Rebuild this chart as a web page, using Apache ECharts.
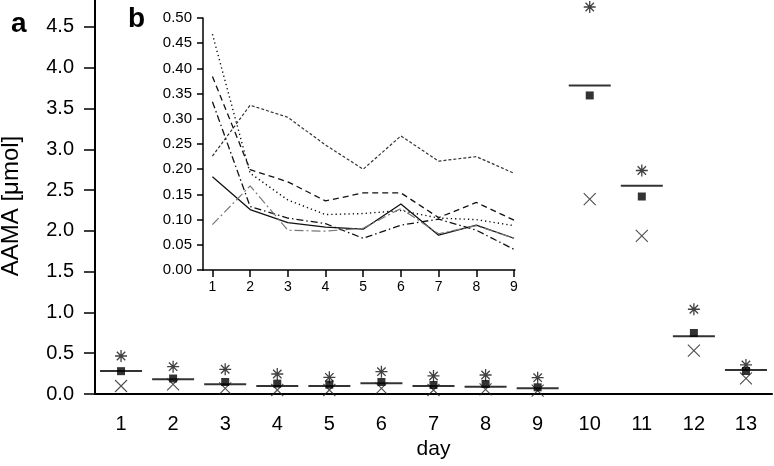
<!DOCTYPE html>
<html>
<head>
<meta charset="utf-8">
<script src="https://cdn.jsdelivr.net/npm/echarts@6/dist/echarts.min.js"></script>
<style>html,body{margin:0;padding:0;background:#fff}#c{width:774px;height:466px}</style>
</head>
<body>
<div id="c"></div>
<script>
// ---- main panel (a) ----
const days = ['1','2','3','4','5','6','7','8','9','10','11','12','13'];
const mainYTicks = [0, 0.5, 1.0, 1.5, 2.0, 2.5, 3.0, 3.5, 4.0, 4.5];
const medianVals = [0.282, 0.180, 0.119, 0.098, 0.098, 0.131, 0.098, 0.090, 0.070, 3.783, 2.552, 0.708, 0.294];
const meanVals   = [0.280, 0.190, 0.147, 0.127, 0.115, 0.147, 0.110, 0.123, 0.082, 3.660, 2.421, 0.748, 0.282];
const maxVals    = [0.466, 0.335, 0.303, 0.245, 0.204, 0.274, 0.221, 0.233, 0.200, 4.744, 2.740, 1.039, 0.356];
const minVals    = [0.098, 0.119, 0.070, 0.049, 0.049, 0.070, 0.049, 0.057, 0.041, 2.389, 1.939, 0.532, 0.192];

// ---- inset panel (b) ----
const insetDays = [1, 2, 3, 4, 5, 6, 7, 8, 9];
const insetYTicks = [0, 0.05, 0.10, 0.15, 0.20, 0.25, 0.30, 0.35, 0.40, 0.45, 0.50];
const subjSolid    = [0.185, 0.120, 0.094, 0.085, 0.081, 0.131, 0.069, 0.089, 0.063];
const subjShortDash= [0.226, 0.327, 0.303, 0.248, 0.200, 0.266, 0.216, 0.225, 0.192];
const subjDotted   = [0.468, 0.192, 0.139, 0.110, 0.112, 0.118, 0.103, 0.100, 0.088];
const subjLongDash = [0.384, 0.199, 0.175, 0.137, 0.153, 0.153, 0.104, 0.134, 0.099];
const subjDashDot  = [0.334, 0.126, 0.103, 0.092, 0.063, 0.089, 0.101, 0.079, 0.041];
const subjGrayDash = [0.090, 0.167, 0.079, 0.077, 0.083, 0.122, 0.072, 0.088, 0.063];
const insetAxisTail = [9, 9.45];

const FONT = 'Liberation Sans, Arial, sans-serif';
const pair = arr => arr.map((v, i) => [insetDays[i], v]);

const starPath = 'path://M0 5L10 5M5 0L5 10M1.5 1.5L8.5 8.5M8.5 1.5L1.5 8.5';
const crossPath = 'path://M0 0L10 10M10 0L0 10';

function insetLine(name, data, type, color, width) {
  return {
    name, type: 'line', xAxisIndex: 1, yAxisIndex: 1, data: pair(data),
    symbol: 'none', silent: true,
    lineStyle: { color, width, type }
  };
}

const chart = echarts.init(document.getElementById('c'), null, { renderer: 'canvas' });
chart.setOption({
  animation: false,
  backgroundColor: '#fff',
  grid: [
    { left: 95, right: 2, top: 0, bottom: 72, containLabel: false, outerBoundsMode: 'none' },
    { left: 203, right: 260, top: 18, bottom: 196, containLabel: false, outerBoundsMode: 'none' }
  ],
  xAxis: [
    {
      type: 'category', gridIndex: 0, data: days, boundaryGap: true,
      name: 'day', nameLocation: 'middle', nameGap: 41,
      nameTextStyle: { fontFamily: FONT, fontSize: 21, color: '#000' },
      axisLine: { lineStyle: { color: '#000', width: 2 } },
      axisTick: { alignWithLabel: true, length: 12, lineStyle: { color: '#000', width: 2 } },
      axisLabel: { fontFamily: FONT, fontSize: 20, color: '#000', margin: 20 },
      splitLine: { show: false }
    },
    {
      type: 'value', gridIndex: 1, min: 0.75, max: 9,
      axisLine: { onZero: false, lineStyle: { color: '#000', width: 1.5 } },
      axisTick: { length: 7, lineStyle: { color: '#000', width: 1.5 }, customValues: insetDays },
      axisLabel: { fontFamily: FONT, fontSize: 14, color: '#000', margin: 10, customValues: insetDays },
      splitLine: { show: false }
    }
  ],
  yAxis: [
    {
      type: 'value', gridIndex: 0, min: 0, max: 4.83,
      name: 'AAMA [μmol]', nameLocation: 'middle', nameGap: 72, nameRotate: 90,
      nameTextStyle: { fontFamily: FONT, fontSize: 24, color: '#000', padding: [0, 18, 0, 0] },
      axisLine: { show: true, lineStyle: { color: '#000', width: 2 } },
      axisTick: { show: true, length: 11, lineStyle: { color: '#000', width: 1.5 }, customValues: mainYTicks },
      axisLabel: { fontFamily: FONT, fontSize: 20, color: '#000', margin: 21, customValues: mainYTicks,
                   formatter: v => v.toFixed(1) },
      splitLine: { show: false }
    },
    {
      type: 'value', gridIndex: 1, min: 0, max: 0.5, interval: 0.05,
      axisLine: { show: true, onZero: false, lineStyle: { color: '#000', width: 1.5 } },
      axisTick: { show: true, length: 6, lineStyle: { color: '#000', width: 1.5 } },
      axisLabel: { fontFamily: FONT, fontSize: 15, color: '#000', margin: 11, formatter: v => v.toFixed(2) },
      splitLine: { show: false }
    }
  ],
  graphic: [
    { type: 'text', left: 11, top: 10, style: { text: 'a', font: 'bold 28px ' + FONT, fill: '#000' } },
    { type: 'text', left: 128, top: 5, style: { text: 'b', font: 'bold 28px ' + FONT, fill: '#000' } }
  ],
  series: [
    {
      name: 'median', type: 'scatter', data: medianVals, symbol: 'rect', symbolSize: [42, 2],
      itemStyle: { color: '#000' }, silent: true
    },
    {
      name: 'max', type: 'scatter', data: maxVals, symbol: starPath, symbolSize: 12,
      itemStyle: { color: 'none', borderColor: '#111', borderWidth: 1.3 }, silent: true
    },
    {
      name: 'min', type: 'scatter', data: minVals, symbol: crossPath, symbolSize: 12,
      itemStyle: { color: 'none', borderColor: '#222', borderWidth: 1.1 }, silent: true
    },
    {
      name: 'mean', type: 'scatter', data: meanVals, symbol: 'rect', symbolSize: 8,
      itemStyle: { color: '#000' }, silent: true, z: 5
    },
    insetLine('s1', subjSolid, 'solid', '#111', 1.3),
    insetLine('s2', subjShortDash, [3, 2], '#333', 1.2),
    insetLine('s3', subjDotted, [1.3, 3], '#111', 1.4),
    insetLine('s4', subjLongDash, [6, 4], '#111', 1.3),
    insetLine('s5', subjDashDot, [7, 3, 1.5, 3], '#111', 1.3),
    insetLine('s6', subjGrayDash, [9, 3, 2, 3], '#777', 1.2),
    {
      name: 'tail', type: 'line', xAxisIndex: 1, yAxisIndex: 1, clip: false,
      data: insetAxisTail.map(x => [x, 0]), symbol: 'none', silent: true,
      lineStyle: { color: '#000', width: 1.5, type: [1.5, 3] }
    }
  ]
});
</script>
</body>
</html>
